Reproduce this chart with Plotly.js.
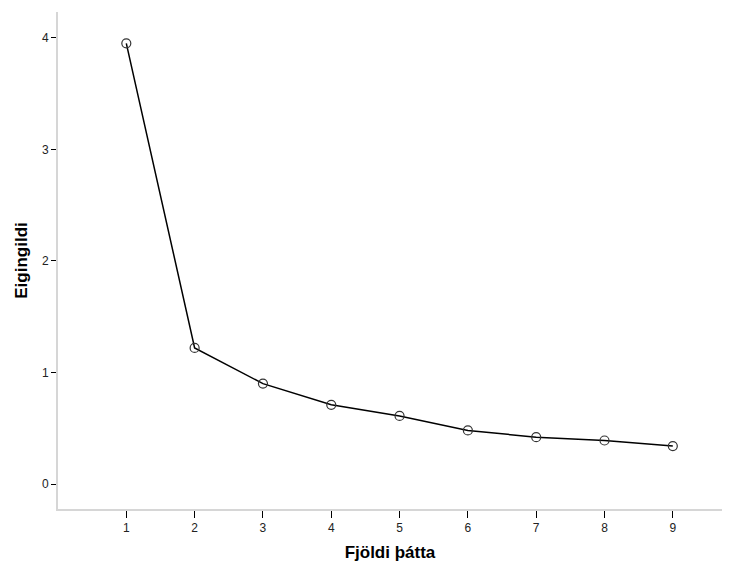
<!DOCTYPE html>
<html>
<head>
<meta charset="utf-8">
<script src="https://cdn.plot.ly/plotly-3.0.1.min.js"></script>
<style>
html,body{margin:0;padding:0;background:#fff;}
#chart{width:736px;height:565px;}
</style>
</head>
<body>
<div id="chart"></div>
<script>
var factorNumbers = [1, 2, 3, 4, 5, 6, 7, 8, 9];
var eigenvalues = [3.95, 1.22, 0.90, 0.71, 0.61, 0.48, 0.42, 0.39, 0.34];
var xTitle = "Fjöldi þátta";
var yTitle = "Eigingildi";

var trace = {
  x: factorNumbers,
  y: eigenvalues,
  type: "scatter",
  mode: "lines+markers",
  line: {color: "#000000", width: 1.5},
  marker: {symbol: "circle-open", size: 9, color: "#333333", line: {width: 1.2, color: "#333333"}},
  showlegend: false,
  hoverinfo: "x+y"
};

var layout = {
  width: 736,
  height: 565,
  margin: {l: 58, r: 14, t: 12, b: 56},
  paper_bgcolor: "#ffffff",
  plot_bgcolor: "#ffffff",
  font: {family: "Liberation Sans, Arial, sans-serif", color: "#222222", size: 12},
  xaxis: {
    range: [0, 9.72],
    tickmode: "array",
    tickvals: factorNumbers,
    ticktext: factorNumbers.map(String),
    ticks: "outside",
    ticklen: 7,
    tickwidth: 1,
    tickcolor: "#000000",
    showline: true,
    linecolor: "#d6d6d6",
    linewidth: 2,
    showgrid: false,
    zeroline: false,
    tickfont: {size: 12, color: "#222222"},
    title: {text: xTitle, font: {size: 17, color: "#000000", family: "Liberation Sans, Arial, sans-serif", weight: "bold"}, standoff: 12}
  },
  yaxis: {
    range: [-0.224, 4.231],
    tickmode: "array",
    tickvals: [0, 1, 2, 3, 4],
    ticktext: ["0", "1", "2", "3", "4"],
    ticks: "outside",
    ticklen: 5,
    tickwidth: 1,
    tickcolor: "#000000",
    showline: true,
    linecolor: "#d6d6d6",
    linewidth: 2,
    showgrid: false,
    zeroline: false,
    tickfont: {size: 12, color: "#222222"},
    title: {text: yTitle, font: {size: 17, color: "#000000", family: "Liberation Sans, Arial, sans-serif", weight: "bold"}, standoff: 10}
  }
};

Plotly.newPlot("chart", [trace], layout, {displayModeBar: false, staticPlot: true});
</script>
</body>
</html>
